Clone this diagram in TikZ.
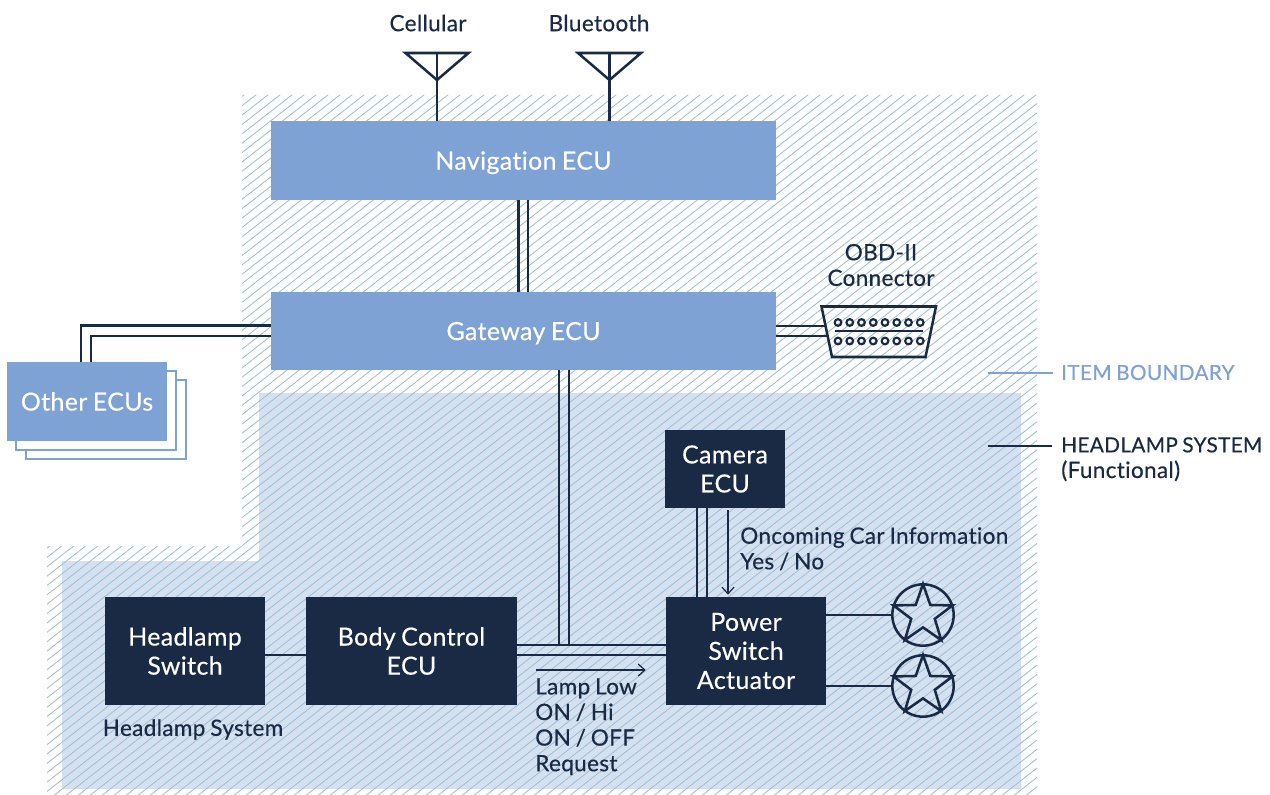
\documentclass[tikz,border=0pt]{standalone}
\usepackage{fontspec}
\setmainfont{Lato}[FakeBold=0.4,LetterSpace=1.5,WordSpace=0.8,Ligatures=NoCommon]
\usetikzlibrary{shapes.geometric, arrows.meta}
\definecolor{inkblue}{HTML}{1A2A44}
\definecolor{itemblue}{HTML}{7EA2D4}
\definecolor{palefill}{HTML}{D5E1F0}
\definecolor{hatchblue}{HTML}{9FC0D6}

\begin{document}
\begin{tikzpicture}[x=0.75pt,y=0.75pt,yscale=-1,xscale=1,
  txt/.style={font=\fontsize{16.9}{19.2}\selectfont, inner sep=0pt, text=inkblue},
  capstxt/.style={font=\fontsize{15.6}{19.2}\selectfont, inner sep=0pt, text=inkblue},
  box/.style 2 args={font=\fontsize{18.7}{21.8}\selectfont, align=center, inner sep=0pt, text=white, minimum width=#1*0.75pt, minimum height=#2*0.75pt},
  itembox/.style={fill=itemblue},
  darkbox/.style={fill=inkblue},
  backbox/.style={draw=itemblue, line width=1.5pt, fill=white},
  wire/.style={draw=inkblue, line width=1.9pt},
  flow/.style={draw=inkblue, line width=0.9pt, -{Straight Barb[length=5pt,width=9pt]}},
  lampring/.style={circle, draw=inkblue, line width=1.9pt, minimum size=46pt, inner sep=0pt},
  lampstar/.style={star, star points=5, star point ratio=2.5, draw=inkblue, line width=1.9pt, minimum size=46.5pt, inner sep=0pt},
  pin/.style={circle, draw=inkblue, line width=1.6pt, minimum size=5pt, inner sep=0pt},
]
\useasboundingbox (0,0) rectangle (1270,795);

%Item boundary fill
\fill [palefill] (259,393) -- (1021,393) -- (1021,789) -- (62,789) -- (62,561) -- (259,561) -- cycle;

%Hatching
\begin{scope}
\clip (242,95) -- (1037,95) -- (1037,795) -- (47,795) -- (47,546) -- (242,546) -- cycle;
\foreach \i in {-708,-696,...,1040}
  \draw [hatchblue, line width=0.65pt] (\i,800) -- ++(1000,-780);
\end{scope}

% Boxes
\node (navecu) [box={505}{78}, itembox, text depth=0pt] at (523.5,160.5) {Navigation ECU};
\node (gatewayecu) [box={505}{78}, itembox, text depth=0pt] at (523.5,331) {Gateway ECU};
\node (otherback) [box={160}{79}, backbox] at (105.5,419) {};
\node (othermid) [box={160}{79}, backbox] at (96,410.5) {};
\node (otherecus) [box={160}{79}, itembox] at (87,401.5) {Other ECUs};
\node (cameraecu) [box={120}{78}, darkbox] at (725,469) {Camera\\ECU};
\node (headlampsw) [box={160}{108}, darkbox] at (185,651) {Headlamp\\Switch};
\node (bodyecu) [box={211}{108}, darkbox] at (411.5,651) {Body Control\\ECU};
\node (powersw) [box={160}{108}, darkbox] at (746,651) {Power\\Switch\\Actuator};

%Lamps
\node (lampa) [lampring] at (923,615) {};
\node (lampb) [lampring] at (923,686) {};
\node (stara) [lampstar] at (923,615) {};
\node (starb) [lampstar] at (923,686) {};

%OBD connector
\coordinate (obdu) at (825.5,326);
\coordinate (obdl) at (827.5,336);
\draw [wire, line join=miter] (821.5,306.5) -- (936,306.5) -- (925.5,357) -- (832,357) -- cycle;
\foreach \i in {0,...,7} {
  \node (pinu\i) [pin] at (838+\i*11.75,322.5) {};
  \node (pinl\i) [pin] at (838+\i*11.75,341) {};
}
\draw [wire] (835,331) -- (923,331);

%Antennas
\coordinate (cellmast) at (437,53);
\coordinate (btmast) at (609.5,53);
\draw [wire] (navecu.north -| cellmast) -- (cellmast);
\draw [wire] (navecu.north -| btmast) -- (btmast);
\draw [wire, line join=miter] (405.5,53) -- (468.5,53) -- (437,80) -- cycle;
\draw [wire, line join=miter] (578,53) -- (641,53) -- (609.5,80) -- cycle;

%Straight Lines
\draw [wire] ([xshift=-3.6pt]navecu.south) -- ([xshift=-3.6pt]gatewayecu.north);
\draw [wire] ([xshift=3.2pt]navecu.south) -- ([xshift=3.2pt]gatewayecu.north);
\draw [wire] ([xshift=-4.5pt]otherecus.north) |- ([yshift=-4.1pt]gatewayecu.west);
\draw [wire] ([xshift=3pt]otherecus.north) |- ([yshift=3.6pt]gatewayecu.west);
\draw [wire] (gatewayecu.east |- obdu) -- (obdu);
\draw [wire] (gatewayecu.east |- obdl) -- (obdl);
\draw [wire] ([xshift=26.6pt]gatewayecu.south) |- ([yshift=-4.5pt]bodyecu.east);
\draw [wire] ([xshift=34pt]gatewayecu.south) |- ([yshift=-4.5pt]powersw.west);
\draw [wire] ([yshift=-4.5pt]bodyecu.east) -- ([yshift=-4.5pt]powersw.west);
\draw [wire] ([yshift=3pt]bodyecu.east) -- ([yshift=3pt]powersw.west);
\draw [wire] ([yshift=3pt]headlampsw.east) -- ([yshift=3pt]bodyecu.west);
\draw [wire] ([xshift=-21pt]cameraecu.south) -- ([xshift=-21pt]cameraecu.south |- powersw.north);
\draw [wire] ([xshift=-13.5pt]cameraecu.south) -- ([xshift=-13.5pt]cameraecu.south |- powersw.north);
\draw [flow, shorten <=1.5pt, shorten >=1.5pt] ([xshift=2.25pt]cameraecu.south) -- ([xshift=2.25pt]cameraecu.south |- powersw.north);
\draw [flow, shorten <=14pt, shorten >=15pt] ([yshift=14.25pt]bodyecu.east) -- ([yshift=14.25pt]powersw.west);
\draw [wire] (powersw.east |- lampa.west) -- (lampa.west);
\draw [wire] (powersw.east |- lampb.west) -- (lampb.west);

%Legend lines
\coordinate (itemtick) at (988,372.5);
\coordinate (headtick) at (988,446);
\node (itemlabel) [capstxt, anchor=west, text=itemblue] at (1061,372.5) {ITEM BOUNDARY};
\node (headlabel) [txt, anchor=north west, align=left] at (1061,437) {{\fontsize{15.6}{19.2}\selectfont HEADLAMP SYSTEM}\\(Functional)};
\draw [itemblue, line width=1.5pt] (itemtick) -- (1053,372.5);
\draw [wire] (headtick) -- (1052,446);

% Text Node
\node (celltext) [txt] at (428,23) {Cellular};
% Text Node
\node (bttext) [txt] at (599,23) {Bluetooth};
% Text Node
\node (obdtext) [txt, align=center] at (881,265) {OBD-II\\Connector};
% Text Node
\node (oncomingtext) [txt, anchor=north west, align=left] at (740,527) {Oncoming Car Information\\Yes / No};
% Text Node
\node (lamptext) [txt, anchor=north west, align=left] at (535,678) {Lamp Low\\ON / Hi\\ON / OFF\\Request};
% Text Node
\node (systemtext) [txt] at (193,729.5) {Headlamp System};

\end{tikzpicture}
\end{document}
